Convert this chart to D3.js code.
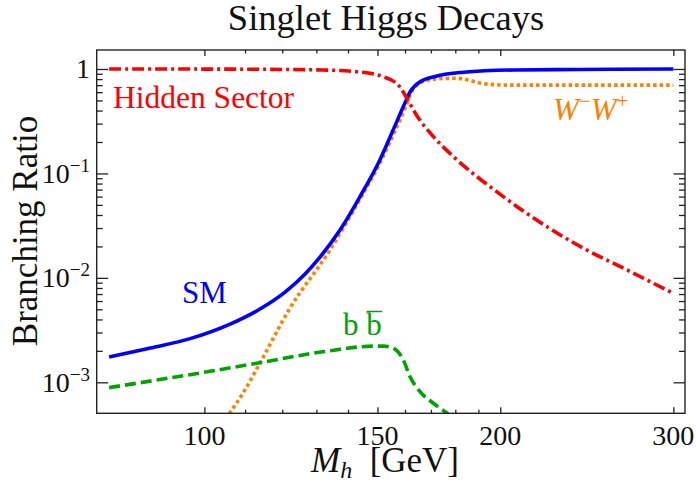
<!DOCTYPE html>
<html>
<head>
<meta charset="utf-8">
<script src="https://cdn.jsdelivr.net/npm/d3@7"></script>
<style>
  html, body { margin: 0; padding: 0; background: #fff; }
  svg { display: block; }
  text { font-family: "Liberation Serif", "Times New Roman", serif; }
</style>
</head>
<body>
<svg id="chart" width="696" height="482"></svg>
<script>
// Singlet Higgs branching ratios versus mass
const massSM = [80, 88.1, 96.7, 106.2, 113.9, 120.8, 126.6, 131.1, 137.4, 143.9, 150.8, 155.6, 159.3, 161.9, 165.8, 172.4, 183.5, 206.3, 241, 300];
const brSM   = [1.75e-3, 2.13e-3, 2.62e-3, 3.61e-3, 5.03e-3, 7.31e-3, 0.0109, 0.0158, 0.0287, 0.0594, 0.134, 0.26, 0.432, 0.602, 0.756, 0.857, 0.93, 0.978, 0.99, 1.0];

const massHidden = [80, 100, 120, 132, 143, 152, 158, 160.7, 164.4, 171, 179.2, 200, 224.7, 244.9, 265, 300];
const brHidden   = [1.0, 0.998, 0.99, 0.978, 0.942, 0.844, 0.677, 0.524, 0.36, 0.225, 0.145, 0.063, 0.0296, 0.0185, 0.0128, 7.1e-3];

const massWW = [106, 110, 114, 122, 134.2, 144, 151, 156, 160, 163, 166, 170, 175, 180.6, 185, 190, 195.3, 205, 240, 300];
const brWW   = [5.0e-4, 8.5e-4, 1.55e-3, 5.0e-3, 0.0185, 0.057, 0.128, 0.245, 0.42, 0.64, 0.74, 0.79, 0.81, 0.815, 0.79, 0.74, 0.713, 0.70, 0.70, 0.70];

const massBB = [80, 97, 113, 132, 149, 152, 155.7, 159.4, 161.9, 165.8, 171, 177];
const brBB   = [8.9e-4, 1.19e-3, 1.52e-3, 1.96e-3, 2.22e-3, 2.22e-3, 2.11e-3, 1.63e-3, 1.13e-3, 8.1e-4, 6.3e-4, 5.0e-4];

const xMajorTicks = [100, 150, 200, 300];
const xMinorTicks = [110, 120, 130, 140, 160, 170, 180, 190];
const yMajorExponents = [0, -1, -2, -3];
const yMinorTicks = [];
[-3, -2, -1].forEach(e => { for (let m = 2; m <= 9; m++) yMinorTicks.push(m * Math.pow(10, e)); });

const titleText = "Singlet Higgs Decays";
const yLabelText = "Branching Ratio";

const plot = { left: 96.7, right: 685, top: 50, bottom: 413.3 };

const x = d3.scaleLog().domain([77.7, 308.3]).range([plot.left, plot.right]);
const y = d3.scaleLog().domain([5.05e-4, 1.52]).range([plot.bottom, plot.top]);

const svg = d3.select("#chart");
const frameColor = "#222";

// clip region for curves
svg.append("defs").append("clipPath").attr("id", "plotClip")
  .append("rect")
  .attr("x", plot.left).attr("y", plot.top)
  .attr("width", plot.right - plot.left).attr("height", plot.bottom - plot.top);

const curves = svg.append("g").attr("clip-path", "url(#plotClip)");
const line = d3.line().x(d => x(d[0])).y(d => y(d[1])).curve(d3.curveMonotoneX);
const zip = (a, b) => a.map((v, i) => [v, b[i]]);

const series = [
  { m: massWW, v: brWW, color: "#ff8000", dash: "3.5,3" },
  { m: massBB, v: brBB, color: "#00a300", dash: "11,5" },
  { m: massSM, v: brSM, color: "#0000ff", dash: null },
  { m: massHidden, v: brHidden, color: "#ff0000", dash: "12,4,3,4" }
];
series.forEach(s => {
  curves.append("path")
    .datum(zip(s.m, s.v))
    .attr("d", line)
    .attr("fill", "none")
    .attr("stroke", s.color)
    .attr("stroke-width", 3.6)
    .attr("stroke-dasharray", s.dash)
    .attr("stroke-linecap", "butt");
});

// frame ticks (inward on all four sides)
function tickAxis(axisFn, scale, values, size, transform) {
  const g = svg.append("g").attr("transform", transform)
    .call(axisFn(scale).tickValues(values).tickSize(-size).tickFormat(""));
  g.select(".domain").remove();
  g.selectAll("line").attr("stroke", frameColor).attr("stroke-width", 1.3);
  return g;
}
const yMajorVals = yMajorExponents.map(e => Math.pow(10, e));
tickAxis(d3.axisBottom, x, xMajorTicks, 6, `translate(0,${plot.bottom})`);
tickAxis(d3.axisBottom, x, xMinorTicks, 3.5, `translate(0,${plot.bottom})`);
tickAxis(d3.axisTop, x, xMajorTicks, 6, `translate(0,${plot.top})`);
tickAxis(d3.axisTop, x, xMinorTicks, 3.5, `translate(0,${plot.top})`);
tickAxis(d3.axisLeft, y, yMajorVals, 11.5, `translate(${plot.left},0)`);
tickAxis(d3.axisLeft, y, yMinorTicks, 6, `translate(${plot.left},0)`);
tickAxis(d3.axisRight, y, yMajorVals, 11.5, `translate(${plot.right},0)`);
tickAxis(d3.axisRight, y, yMinorTicks, 6, `translate(${plot.right},0)`);

// frame
svg.append("rect")
  .attr("x", plot.left).attr("y", plot.top)
  .attr("width", plot.right - plot.left).attr("height", plot.bottom - plot.top)
  .attr("fill", "none").attr("stroke", frameColor).attr("stroke-width", 1.4);

// x tick labels
svg.append("g").selectAll("text").data(xMajorTicks).join("text")
  .attr("x", d => x(d)).attr("y", 445)
  .attr("text-anchor", "middle").attr("font-size", 28).attr("fill", "#111")
  .text(d => d);

// y tick labels with exponents
const yl = svg.append("g").selectAll("text").data(yMajorExponents).join("text")
  .attr("x", 90).attr("y", d => y(Math.pow(10, d)) + 9.5)
  .attr("text-anchor", "end").attr("font-size", 28).attr("fill", "#111");
yl.each(function (e) {
  const t = d3.select(this);
  if (e === 0) { t.text("1"); return; }
  t.append("tspan").text("10");
  t.append("tspan").attr("font-size", 19).attr("dy", -11).text("\u2212" + (-e));
});

// title
svg.append("text").attr("x", 386).attr("y", 30).attr("text-anchor", "middle")
  .attr("font-size", 36.5).attr("fill", "#111").text(titleText);

// axis titles
const xl = svg.append("text").attr("x", 385).attr("y", 472).attr("text-anchor", "middle")
  .attr("font-size", 35).attr("fill", "#111");
xl.append("tspan").attr("font-style", "italic").text("M");
xl.append("tspan").attr("font-style", "italic").attr("font-size", 24).attr("dy", 6).text("h");
xl.append("tspan").attr("dy", -6).text("\u00a0\u00a0[GeV]");

svg.append("text").attr("transform", "translate(37,231) rotate(-90)")
  .attr("text-anchor", "middle").attr("font-size", 35).attr("fill", "#111").text(yLabelText);

// curve labels
svg.append("text").attr("x", 113).attr("y", 108).attr("font-size", 31.5)
  .attr("fill", "#ff0000").text("Hidden Sector");
svg.append("text").attr("x", 182).attr("y", 303).attr("font-size", 31)
  .attr("fill", "#0000ff").text("SM");

const ww = svg.append("text").attr("x", 553).attr("y", 120).attr("font-size", 31)
  .attr("fill", "#ff8000").attr("font-style", "italic");
ww.append("tspan").text("W");
ww.append("tspan").attr("font-size", 21).attr("dy", -12).attr("font-style", "normal").text("\u2212");
ww.append("tspan").attr("dy", 12).text("W");
ww.append("tspan").attr("font-size", 21).attr("dy", -12).attr("font-style", "normal").text("+");

const bb = svg.append("text").attr("x", 343).attr("y", 335).attr("font-size", 31).attr("fill", "#00a300");
bb.append("tspan").text("b\u00a0");
bb.append("tspan").text("b");
// overline over the antiquark symbol
const n = bb.node();
const startX = n.getStartPositionOfChar(2).x, endX = n.getEndPositionOfChar(2).x;
svg.append("line").attr("x1", startX + 0.5).attr("x2", endX + 0.5)
  .attr("y1", 311.5).attr("y2", 311.5).attr("stroke", "#00a300").attr("stroke-width", 1.5);
</script>
</body>
</html>
